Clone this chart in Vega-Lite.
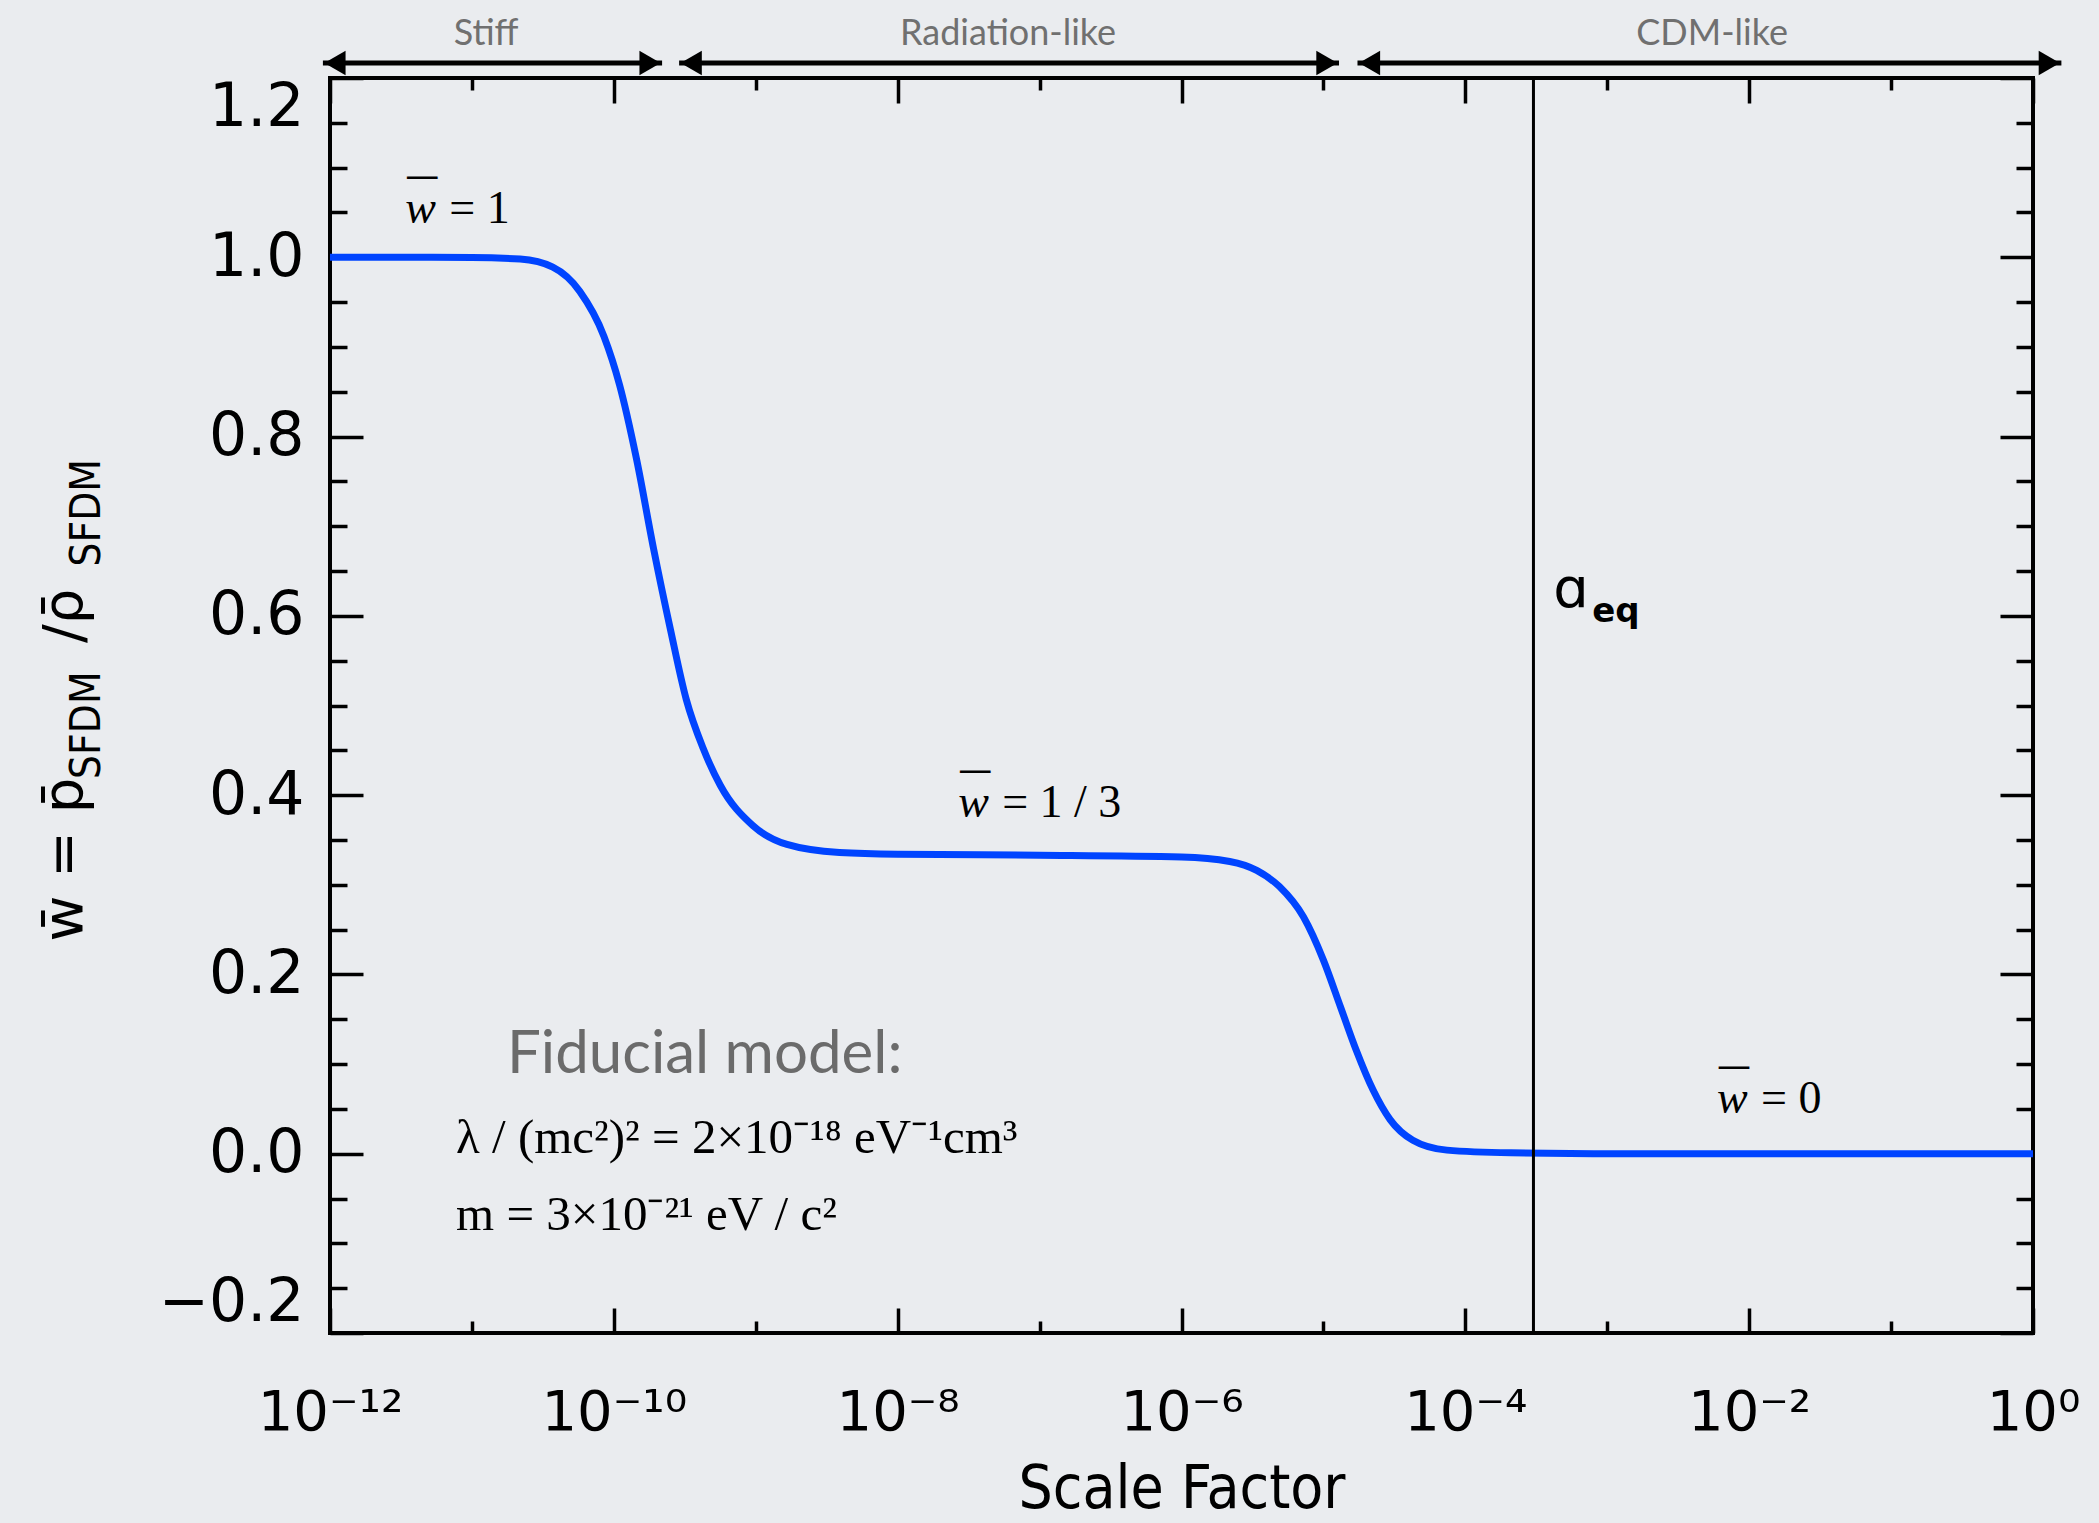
{
  "$schema": "https://vega.github.io/schema/vega-lite/v6.json",
  "width": 1703,
  "height": 1255,
  "autosize": {"type": "none"},
  "padding": {"left": 330, "top": 78, "right": 66, "bottom": 190},
  "background": "#eaecef",
  "config": {
    "view": {"stroke": "#000000", "strokeWidth": 4, "fill": null},
    "axis": {"grid": false, "domain": false, "tickColor": "#000000", "tickWidth": 3.5, "labelColor": "#000000", "titleColor": "#000000", "labelFlush": false, "labelOverlap": false, "labelBound": false}
  },
  "datasets": {
    "curve": [
      {"a": 1e-12, "w": 1.0}, {"a": 3.162e-12, "w": 1.0}, {"a": 1e-11, "w": 0.9998},
      {"a": 2.188e-11, "w": 0.998}, {"a": 3.715e-11, "w": 0.989}, {"a": 5.754e-11, "w": 0.962},
      {"a": 8.511e-11, "w": 0.912}, {"a": 1.096e-10, "w": 0.858}, {"a": 1.445e-10, "w": 0.775},
      {"a": 1.905e-10, "w": 0.675}, {"a": 2.512e-10, "w": 0.584}, {"a": 3.236e-10, "w": 0.507},
      {"a": 4.266e-10, "w": 0.452}, {"a": 5.623e-10, "w": 0.411}, {"a": 9.55e-10, "w": 0.366},
      {"a": 1.66e-9, "w": 0.345}, {"a": 3.89e-9, "w": 0.336}, {"a": 1e-8, "w": 0.334},
      {"a": 1e-7, "w": 0.333}, {"a": 1e-6, "w": 0.331}, {"a": 2.188e-6, "w": 0.326},
      {"a": 3.388e-6, "w": 0.316}, {"a": 4.898e-6, "w": 0.298}, {"a": 7.244e-6, "w": 0.264},
      {"a": 1e-5, "w": 0.216}, {"a": 1.318e-5, "w": 0.164}, {"a": 1.698e-5, "w": 0.116},
      {"a": 2.239e-5, "w": 0.071}, {"a": 2.951e-5, "w": 0.038}, {"a": 4.266e-5, "w": 0.015},
      {"a": 7.413e-5, "w": 0.004}, {"a": 2.089e-4, "w": 0.001}, {"a": 1e-3, "w": 0.0},
      {"a": 1e-2, "w": 0.0}, {"a": 1, "w": 0.0}
    ],
    "arrows": [
      {"a1": 8.913e-13, "a2": 2.188e-10, "c1": 1.084e-12, "c2": 1.799e-10, "w": 1.2167},
      {"a1": 2.884e-10, "a2": 1.288e-5, "c1": 3.508e-10, "c2": 1.059e-5, "w": 1.2167},
      {"a1": 1.738e-5, "a2": 1.585, "c1": 2.113e-5, "c2": 1.303, "w": 1.2167}
    ],
    "regions": [
      {"a": 1.259e-11, "w": 1.2368, "t": "Stiff"},
      {"a": 5.998e-8, "w": 1.2368, "t": "Radiation-like"},
      {"a": 5.483e-3, "w": 1.2368, "t": "CDM-like"}
    ],
    "wlabels": [
      {"a": 3.388e-12, "w": 1.038, "rhs": "= 1"},
      {"a": 2.667e-8, "w": 0.376, "rhs": "= 1 / 3"},
      {"a": 5.943e-3, "w": 0.0454, "rhs": "= 0"}
    ]
  },
  "resolve": {"axis": {"x": "independent", "y": "independent"}},
  "layer": [
    {
      "data": {"name": "curve"},
      "mark": {"type": "line", "color": "#0044ff", "strokeWidth": 7, "interpolate": "monotone"},
      "encoding": {
        "x": {"field": "a", "type": "quantitative", "scale": {"type": "log", "domain": [1e-12, 1]},
          "axis": {"orient": "bottom", "values": [1e-12, 1e-10, 1e-8, 1e-6, 1e-4, 1e-2, 1], "ticks": false,
            "labelExpr": "'10' + ['⁻¹²','⁻¹⁰','⁻⁸','⁻⁶','⁻⁴','⁻²','⁰'][round((log(datum.value)/LN10+12)/2)]",
            "labelFont": "DejaVu Sans", "labelFontSize": 56, "labelPadding": 52,
            "title": "Scale Factor", "titleFont": "DejaVu Sans Condensed", "titleFontSize": 60, "titleFontWeight": "normal",
            "titleBaseline": "alphabetic", "titleY": 174}},
        "y": {"field": "w", "type": "quantitative", "scale": {"domain": [-0.2, 1.2], "nice": false, "zero": false},
          "axis": {"orient": "left", "values": [-0.2, 0, 0.2, 0.4, 0.6, 0.8, 1.0, 1.2], "format": ".1f", "ticks": false,
            "labelFlush": true, "labelFlushOffset": 0,
            "labelFont": "DejaVu Sans", "labelFontSize": 60, "labelPadding": 26, "title": null}}
      }
    },
    {
      "data": {"values": [{"a": 3.02e-4}]},
      "mark": {"type": "rule", "color": "#000000", "strokeWidth": 3},
      "encoding": {
        "x": {"field": "a", "type": "quantitative", "scale": {"type": "log", "domain": [1e-12, 1]},
          "axis": {"orient": "bottom", "values": [1e-12, 1e-10, 1e-8, 1e-6, 1e-4, 1e-2, 1], "tickSize": -25, "labels": false, "title": null}},
        "y": {"datum": -0.2, "type": "quantitative", "scale": {"domain": [-0.2, 1.2], "nice": false, "zero": false},
          "axis": {"orient": "left", "values": [-0.2, 0, 0.2, 0.4, 0.6, 0.8, 1.0, 1.2], "tickSize": -33, "labels": false, "title": null}},
        "y2": {"datum": 1.2}
      }
    },
    {
      "data": {"name": "arrows"},
      "mark": {"type": "rule", "color": "#000000", "strokeWidth": 5, "clip": false},
      "encoding": {
        "x": {"field": "a1", "type": "quantitative", "scale": {"type": "log", "domain": [1e-12, 1]},
          "axis": {"orient": "bottom", "values": [1e-11, 1e-9, 1e-7, 1e-5, 1e-3, 1e-1], "tickSize": -12, "labels": false, "title": null}},
        "x2": {"field": "a2"},
        "y": {"field": "w", "type": "quantitative", "scale": {"domain": [-0.2, 1.2], "nice": false, "zero": false},
          "axis": {"orient": "left", "values": [-0.15, -0.1, -0.05, 0.05, 0.1, 0.15, 0.25, 0.3, 0.35, 0.45, 0.5, 0.55, 0.65, 0.7, 0.75, 0.85, 0.9, 0.95, 1.05, 1.1, 1.15], "tickSize": -17, "labels": false, "title": null}}
      }
    },
    {
      "data": {"name": "arrows"},
      "mark": {"type": "point", "shape": "triangle-left", "filled": true, "color": "#000000", "size": 600, "opacity": 1, "clip": false},
      "encoding": {
        "x": {"field": "c1", "type": "quantitative", "scale": {"type": "log", "domain": [1e-12, 1]},
          "axis": {"orient": "top", "values": [1e-12, 1e-10, 1e-8, 1e-6, 1e-4, 1e-2, 1], "tickSize": -25, "labels": false, "title": null}},
        "y": {"field": "w", "type": "quantitative", "scale": {"domain": [-0.2, 1.2], "nice": false, "zero": false},
          "axis": {"orient": "right", "values": [-0.2, 0, 0.2, 0.4, 0.6, 0.8, 1.0, 1.2], "tickSize": -33, "labels": false, "title": null}}
      }
    },
    {
      "data": {"name": "arrows"},
      "mark": {"type": "point", "shape": "triangle-right", "filled": true, "color": "#000000", "size": 600, "opacity": 1, "clip": false},
      "encoding": {
        "x": {"field": "c2", "type": "quantitative", "scale": {"type": "log", "domain": [1e-12, 1]},
          "axis": {"orient": "top", "values": [1e-11, 1e-9, 1e-7, 1e-5, 1e-3, 1e-1], "tickSize": -12, "labels": false, "title": null}},
        "y": {"field": "w", "type": "quantitative", "scale": {"domain": [-0.2, 1.2], "nice": false, "zero": false},
          "axis": {"orient": "right", "values": [-0.15, -0.1, -0.05, 0.05, 0.1, 0.15, 0.25, 0.3, 0.35, 0.45, 0.5, 0.55, 0.65, 0.7, 0.75, 0.85, 0.9, 0.95, 1.05, 1.1, 1.15], "tickSize": -17, "labels": false, "title": null}}
      }
    },
    {
      "data": {"name": "regions"},
      "mark": {"type": "text", "font": "Lato", "fontSize": 36, "color": "#707070", "align": "center", "baseline": "alphabetic", "clip": false},
      "encoding": {
        "x": {"field": "a", "type": "quantitative", "scale": {"type": "log", "domain": [1e-12, 1]}, "axis": null},
        "y": {"field": "w", "type": "quantitative", "scale": {"domain": [-0.2, 1.2], "nice": false, "zero": false}, "axis": null},
        "text": {"field": "t"}
      }
    },
    {
      "data": {"name": "wlabels"},
      "mark": {"type": "text", "font": "Liberation Serif", "fontStyle": "italic", "fontSize": 46, "color": "#000000", "align": "left", "baseline": "alphabetic"},
      "encoding": {
        "x": {"field": "a", "type": "quantitative", "scale": {"type": "log", "domain": [1e-12, 1]}, "axis": null},
        "y": {"field": "w", "type": "quantitative", "scale": {"domain": [-0.2, 1.2], "nice": false, "zero": false}, "axis": null},
        "text": {"value": "w"}
      }
    },
    {
      "data": {"name": "wlabels"},
      "mark": {"type": "text", "font": "DejaVu Sans", "fontSize": 34, "color": "#000000", "align": "left", "baseline": "alphabetic", "dx": 0, "dy": -36},
      "encoding": {
        "x": {"field": "a", "type": "quantitative", "scale": {"type": "log", "domain": [1e-12, 1]}, "axis": null},
        "y": {"field": "w", "type": "quantitative", "scale": {"domain": [-0.2, 1.2], "nice": false, "zero": false}, "axis": null},
        "text": {"value": "—"}
      }
    },
    {
      "data": {"name": "wlabels"},
      "mark": {"type": "text", "font": "Liberation Serif", "fontSize": 46, "color": "#000000", "align": "left", "baseline": "alphabetic", "dx": 44},
      "encoding": {
        "x": {"field": "a", "type": "quantitative", "scale": {"type": "log", "domain": [1e-12, 1]}, "axis": null},
        "y": {"field": "w", "type": "quantitative", "scale": {"domain": [-0.2, 1.2], "nice": false, "zero": false}, "axis": null},
        "text": {"field": "rhs"}
      }
    },
    {
      "data": {"values": [{"a": 1.766e-11, "w": 0.09, "t": "Fiducial model:"}]},
      "mark": {"type": "text", "font": "Lato", "fontSize": 60, "color": "#6b6b6b", "align": "left", "baseline": "alphabetic"},
      "encoding": {
        "x": {"field": "a", "type": "quantitative", "scale": {"type": "log", "domain": [1e-12, 1]}, "axis": null},
        "y": {"field": "w", "type": "quantitative", "scale": {"domain": [-0.2, 1.2], "nice": false, "zero": false}, "axis": null},
        "text": {"field": "t"}
      }
    },
    {
      "data": {"values": [
        {"a": 7.727e-12, "w": 0.0007, "t": "λ / (mc²)² = 2×10⁻¹⁸  eV⁻¹cm³"},
        {"a": 7.727e-12, "w": -0.085, "t": "m = 3×10⁻²¹  eV / c²"}
      ]},
      "mark": {"type": "text", "font": "Liberation Serif", "fontSize": 49, "color": "#000000", "align": "left", "baseline": "alphabetic"},
      "encoding": {
        "x": {"field": "a", "type": "quantitative", "scale": {"type": "log", "domain": [1e-12, 1]}, "axis": null},
        "y": {"field": "w", "type": "quantitative", "scale": {"domain": [-0.2, 1.2], "nice": false, "zero": false}, "axis": null},
        "text": {"field": "t"}
      }
    },
    {
      "data": {"values": [{"a": 4.159e-4, "w": 0.61, "t": "ɑ"}]},
      "mark": {"type": "text", "font": "DejaVu Sans", "fontSize": 56, "color": "#000000", "align": "left", "baseline": "alphabetic"},
      "encoding": {
        "x": {"field": "a", "type": "quantitative", "scale": {"type": "log", "domain": [1e-12, 1]}, "axis": null},
        "y": {"field": "w", "type": "quantitative", "scale": {"domain": [-0.2, 1.2], "nice": false, "zero": false}, "axis": null},
        "text": {"field": "t"}
      }
    },
    {
      "data": {"values": [{"a": 4.159e-4, "w": 0.61, "t": "eq"}]},
      "mark": {"type": "text", "font": "DejaVu Sans", "fontWeight": "bold", "fontSize": 34, "color": "#000000", "align": "left", "baseline": "alphabetic", "dx": 39, "dy": 15},
      "encoding": {
        "x": {"field": "a", "type": "quantitative", "scale": {"type": "log", "domain": [1e-12, 1]}, "axis": null},
        "y": {"field": "w", "type": "quantitative", "scale": {"domain": [-0.2, 1.2], "nice": false, "zero": false}, "axis": null},
        "text": {"field": "t"}
      }
    },
    {
      "data": {"values": [
        {"a": 1.786e-14, "w": 0.328, "t": "w̄ = p̄"},
        {"a": 1.786e-14, "w": 0.600, "t": "/ρ̄"}
      ]},
      "mark": {"type": "text", "font": "DejaVu Sans", "fontSize": 56, "color": "#000000", "align": "center", "baseline": "alphabetic", "angle": 270, "clip": false},
      "encoding": {
        "x": {"field": "a", "type": "quantitative", "scale": {"type": "log", "domain": [1e-12, 1]}, "axis": null},
        "y": {"field": "w", "type": "quantitative", "scale": {"domain": [-0.2, 1.2], "nice": false, "zero": false}, "axis": null},
        "text": {"field": "t"}
      }
    },
    {
      "data": {"values": [
        {"a": 2.393e-14, "w": 0.478, "t": "SFDM"},
        {"a": 2.393e-14, "w": 0.715, "t": "SFDM"}
      ]},
      "mark": {"type": "text", "font": "DejaVu Sans Condensed", "fontSize": 42, "color": "#000000", "align": "center", "baseline": "alphabetic", "angle": 270, "clip": false},
      "encoding": {
        "x": {"field": "a", "type": "quantitative", "scale": {"type": "log", "domain": [1e-12, 1]}, "axis": null},
        "y": {"field": "w", "type": "quantitative", "scale": {"domain": [-0.2, 1.2], "nice": false, "zero": false}, "axis": null},
        "text": {"field": "t"}
      }
    }
  ]
}
